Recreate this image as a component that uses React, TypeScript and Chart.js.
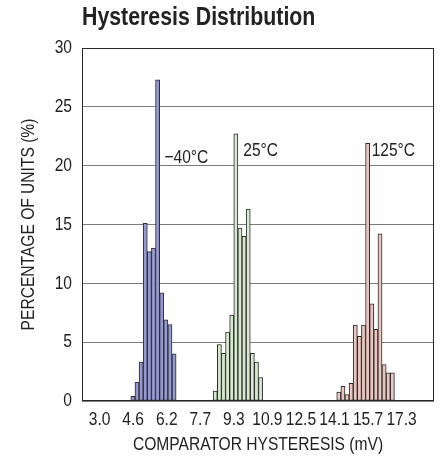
import React, { useEffect, useRef } from "react";
import { Chart, registerables } from "chart.js";

Chart.register(...registerables);

const TITLE = "Hysteresis Distribution";
const X_TITLE = "COMPARATOR HYSTERESIS (mV)";
const Y_TITLE = "PERCENTAGE OF UNITS (%)";

const X_TICK_VALUES = [3.0, 4.589, 6.178, 7.767, 9.356, 10.944, 12.533, 14.122, 15.711, 17.3];
const X_TICK_LABELS = ["3.0", "4.6", "6.2", "7.7", "9.3", "10.9", "12.5", "14.1", "15.7", "17.3"];
const X_MIN = 3.0;
const X_MAX = 18.0;
const Y_MIN = 0;
const Y_MAX = 30;
const Y_STEP = 5;

// bin centres (mV) and percentages
const BINS_M40 = [4.576, 4.771, 4.966, 5.161, 5.356, 5.551, 5.746, 5.941, 6.136, 6.331, 6.526];
const PCT_M40 = [0.4, 1.6, 3.3, 15.1, 12.7, 13.0, 27.3, 9.2, 6.9, 6.5, 4.0];

const BINS_25 = [8.476, 8.671, 8.866, 9.061, 9.256, 9.451, 9.646, 9.841, 10.036, 10.231, 10.426, 10.621];
const PCT_25 = [0.85, 4.8, 4.05, 5.85, 7.3, 22.7, 14.7, 14.0, 16.3, 4.05, 3.3, 2.0];

const BINS_125 = [14.326, 14.521, 14.716, 14.911, 15.106, 15.301, 15.496, 15.691, 15.886, 16.081, 16.276, 16.471, 16.666, 16.861];
const PCT_125 = [0.75, 1.25, 0.55, 1.5, 6.45, 5.5, 6.45, 21.9, 8.25, 6.1, 14.2, 3.1, 2.4, 2.4];

const SERIES_LABELS = ["\u221240\u00b0C", "25\u00b0C", "125\u00b0C"];
const SERIES_LABEL_X = [6.07, 9.8, 15.88];
const SERIES_LABEL_Y = [20.7, 21.3, 21.3];

const FONT = "'Liberation Sans', Arial, sans-serif";
const NARROW = 0.82; // horizontal squeeze to imitate a narrow face
const TEXT = "#222222";

const toPoints = (xs: number[], ys: number[]) => xs.map((x, i) => ({ x, y: ys[i] }));

const narrowTextPlugin = {
  id: "narrowText",
  beforeDraw(chart: any) {
    const ctx = chart.ctx;
    if (ctx.__narrowPatched) return;
    const orig = ctx.fillText;
    ctx.fillText = function (text: string, x: number, y: number) {
      this.save();
      this.translate(x, y);
      this.scale(NARROW, 1);
      orig.call(this, text, 0, 0);
      this.restore();
    };
    ctx.__narrowPatched = true;
  },
};

const framePlugin = {
  id: "frameAndLabels",
  afterDatasetsDraw(chart: any) {
    const { ctx, chartArea: a, scales } = chart;
    ctx.save();
    ctx.strokeStyle = "#2a2a2a";
    ctx.lineWidth = 1;
    ctx.strokeRect(Math.round(a.left) + 0.5, Math.round(a.top) + 0.5, Math.round(a.right - a.left) - 1, Math.round(a.bottom - a.top) - 1);
    ctx.font = `19px ${FONT}`;
    ctx.fillStyle = TEXT;
    ctx.textAlign = "left";
    ctx.textBaseline = "middle";
    SERIES_LABELS.forEach((t, i) => {
      ctx.fillText(t, scales.x.getPixelForValue(SERIES_LABEL_X[i]), scales.y.getPixelForValue(SERIES_LABEL_Y[i]));
    });
    ctx.restore();
  },
};

export default function App() {
  const ref = useRef<HTMLCanvasElement>(null);
  useEffect(() => {
    const barBase = {
      borderColor: "#2a2a2a",
      borderWidth: 1,
      borderSkipped: false,
      grouped: false,
      barPercentage: 1,
      categoryPercentage: 1,
    };
    const chart = new Chart(ref.current!, {
      type: "bar",
      data: {
        datasets: [
          { ...barBase, label: SERIES_LABELS[0], data: toPoints(BINS_M40, PCT_M40), backgroundColor: "#9499cf" },
          { ...barBase, label: SERIES_LABELS[1], data: toPoints(BINS_25, PCT_25), backgroundColor: "#d6e9cf" },
          { ...barBase, label: SERIES_LABELS[2], data: toPoints(BINS_125, PCT_125), backgroundColor: "#e9c6c0" },
        ] as any,
      },
      options: {
        responsive: false,
        devicePixelRatio: 1,
        animation: false,
        layout: { padding: { left: 0, right: 12, top: 0, bottom: 0 } },
        plugins: {
          legend: { display: false },
          tooltip: { enabled: false },
          title: {
            display: true,
            text: TITLE,
            align: "start",
            fullSize: false,
            color: TEXT,
            font: { family: FONT, size: 26, weight: "bold", lineHeight: 1.2 },
            padding: { top: 2, bottom: 14.8 },
          },
        },
        scales: {
          x: {
            type: "linear",
            min: X_MIN,
            max: X_MAX,
            afterBuildTicks: (s: any) => {
              s.ticks = X_TICK_VALUES.map((v) => ({ value: v }));
            },
            afterFit: (s: any) => {
              s.height = 57;
            },
            ticks: {
              autoSkip: false,
              maxRotation: 0,
              minRotation: 0,
              padding: 7,
              color: TEXT,
              font: { family: FONT, size: 19, lineHeight: 1.2 },
              callback: (_v: any, i: number) => X_TICK_LABELS[i],
            },
            grid: { display: false, drawTicks: false },
            border: { display: false },
            title: {
              display: true,
              text: X_TITLE,
              color: TEXT,
              font: { family: FONT, size: 19, lineHeight: 1.2 },
              padding: { top: 0, bottom: 2 },
            },
          },
          y: {
            type: "linear",
            min: Y_MIN,
            max: Y_MAX,
            afterFit: (s: any) => {
              s.width = 82;
            },
            ticks: {
              stepSize: Y_STEP,
              padding: 10,
              color: TEXT,
              font: { family: FONT, size: 19, lineHeight: 1.2 },
            },
            grid: { color: "#7a7a7a", lineWidth: 1, drawTicks: false },
            border: { display: false },
            title: {
              display: true,
              text: Y_TITLE,
              color: TEXT,
              font: { family: FONT, size: 19, lineHeight: 1.2 },
              padding: { top: 17.6, bottom: 0 },
            },
          },
        },
      } as any,
      plugins: [narrowTextPlugin, framePlugin],
    });
    return () => chart.destroy();
  }, []);
  return (
    <div style={{ position: "fixed", left: 0, top: 0, width: 446, height: 458, background: "#fff" }}>
      <canvas ref={ref} width={446} height={458} style={{ display: "block", width: 446, height: 458 }} />
    </div>
  );
}
